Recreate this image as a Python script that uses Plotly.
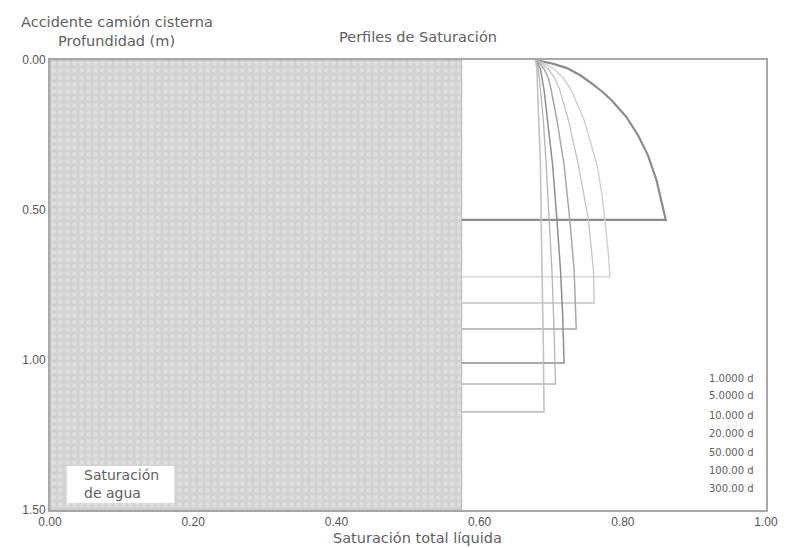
import plotly.graph_objects as go

# ---- data ----
water_saturation = 0.575          # saturación de agua (zona sombreada)
max_depth = 1.5

labels = ["1.0000 d", "5.0000 d", "10.000 d", "20.000 d", "50.000 d", "100.00 d", "300.00 d"]

depth_1d = [0.0, 0.012, 0.027, 0.05, 0.077, 0.105, 0.133, 0.19, 0.25, 0.317, 0.40, 0.467, 0.533]
sat_1d = [0.678, 0.702, 0.722, 0.740, 0.756, 0.771, 0.784, 0.805, 0.821, 0.835, 0.847, 0.854, 0.860]

depth_5d = [0.0, 0.015, 0.03, 0.06, 0.10, 0.20, 0.35, 0.45, 0.533, 0.65, 0.723]
sat_5d = [0.678, 0.693, 0.704, 0.717, 0.728, 0.746, 0.764, 0.771, 0.775, 0.780, 0.782]

depth_10d = [0.0, 0.015, 0.03, 0.06, 0.10, 0.20, 0.35, 0.533, 0.70, 0.81]
sat_10d = [0.678, 0.688, 0.696, 0.705, 0.712, 0.724, 0.738, 0.752, 0.759, 0.760]

depth_20d = [0.0, 0.015, 0.03, 0.06, 0.10, 0.20, 0.35, 0.533, 0.70, 0.897]
sat_20d = [0.678, 0.685, 0.690, 0.696, 0.700, 0.708, 0.718, 0.726, 0.732, 0.735]

depth_50d = [0.0, 0.03, 0.10, 0.20, 0.35, 0.533, 0.70, 0.85, 1.01]
sat_50d = [0.678, 0.685, 0.690, 0.695, 0.702, 0.708, 0.713, 0.716, 0.718]

depth_100d = [0.0, 0.03, 0.10, 0.20, 0.35, 0.533, 0.70, 0.90, 1.08]
sat_100d = [0.678, 0.682, 0.685, 0.689, 0.693, 0.697, 0.701, 0.704, 0.706]

depth_300d = [0.0, 0.03, 0.10, 0.20, 0.35, 0.533, 0.75, 0.95, 1.173]
sat_300d = [0.678, 0.680, 0.681, 0.683, 0.685, 0.686, 0.688, 0.689, 0.690]

x_ticks = [0.0, 0.2, 0.4, 0.6, 0.8, 1.0]
y_ticks = [0.0, 0.5, 1.0, 1.5]

profiles = [
    (sat_1d, depth_1d), (sat_5d, depth_5d), (sat_10d, depth_10d), (sat_20d, depth_20d),
    (sat_50d, depth_50d), (sat_100d, depth_100d), (sat_300d, depth_300d),
]
line_colors = ["#8c8c8c", "#cfcfcf", "#c4c4c4", "#a8a8a8", "#8f8f8f", "#b5b5b5", "#c2c2c2"]
line_widths = [2.2, 1.4, 1.3, 1.5, 1.5, 1.3, 1.6]

fig = go.Figure()

# shaded water-saturation region
fig.add_trace(go.Scatter(
    x=[0, water_saturation, water_saturation, 0, 0],
    y=[0, 0, max_depth, max_depth, 0],
    mode="lines", fill="toself",
    line=dict(color="#b8b8b8", width=1),
    fillcolor="#d4d4d4",
    fillpattern=dict(shape=".", bgcolor="#d2d2d2", fgcolor="#ececec", size=7, solidity=0.35),
    hoverinfo="skip", showlegend=False,
))

for (s, d), lab, c, w in zip(profiles, labels, line_colors, line_widths):
    xs = list(s) + [water_saturation]
    ys = list(d) + [d[-1]]
    fig.add_trace(go.Scatter(x=xs, y=ys, mode="lines", name=lab,
                             line=dict(color=c, width=w), showlegend=False))

FAM = "DejaVu Sans, Verdana, sans-serif"
TXT = "#606060"
font_title = dict(family=FAM, size=14.5, color=TXT)
font_box = dict(family=FAM, size=14, color=TXT)
font_leg = dict(family=FAM, size=10, color=TXT)
font_tick = dict(family="Liberation Sans, Arial, sans-serif", size=12, color="#555555")

# page body has an 8px margin: figure coordinates = window coordinates - 8
fig.update_layout(
    width=782, height=540,
    margin=dict(l=42, r=20, t=52, b=38),
    paper_bgcolor="white", plot_bgcolor="white",
    font=font_tick,
    xaxis=dict(range=[0, 1], tickvals=x_ticks, tickformat=".2f", showgrid=False, zeroline=False,
               showline=True, linecolor="#a8a8a8", linewidth=2, mirror=True, ticks="",
               tickfont=font_tick),
    yaxis=dict(range=[max_depth, 0], tickvals=y_ticks, tickformat=".2f", showgrid=False, zeroline=False,
               showline=True, linecolor="#a8a8a8", linewidth=2, mirror=True, ticks="",
               tickfont=font_tick),
)

def px_to_paper(px, py):
    # window pixel -> paper fraction (plot area spans x 50..770, y 60..510 in the window)
    return (px - 50) / 720, (510 - py) / 450

annots = []
for txt, px, py, anchor in [
    ("Accidente camión cisterna", 117, 22, "center"),
    ("Profundidad (m)", 117, 41, "center"),
    ("Perfiles de Saturación", 420, 37, "center"),
    ("Saturación total líquida", 420, 538, "center"),
]:
    x, y = px_to_paper(px, py)
    annots.append(dict(text=txt, x=x, y=y, xref="paper", yref="paper", xanchor=anchor,
                       yanchor="middle", showarrow=False, font=font_title))

legend_y = [378, 396, 415, 433, 452, 470, 488]
for lab, py in zip(labels, legend_y):
    x, y = px_to_paper(760, py)
    annots.append(dict(text=lab, x=x, y=y, xref="paper", yref="paper", xanchor="right",
                       yanchor="middle", showarrow=False, font=font_leg))

for txt, py in [("Saturación", 475), ("de agua", 493)]:
    x, y = px_to_paper(82, py)
    annots.append(dict(text=txt, x=x, y=y, xref="paper", yref="paper", xanchor="left",
                       yanchor="middle", showarrow=False, font=font_box))

fig.update_layout(annotations=annots)

x0, y0 = px_to_paper(67, 503)
x1, y1 = px_to_paper(175, 466)
fig.add_shape(type="rect", xref="paper", yref="paper", x0=x0, y0=y0, x1=x1, y1=y1,
              fillcolor="white", line=dict(color="white", width=0), layer="above")

fig.write_html("out.html")
